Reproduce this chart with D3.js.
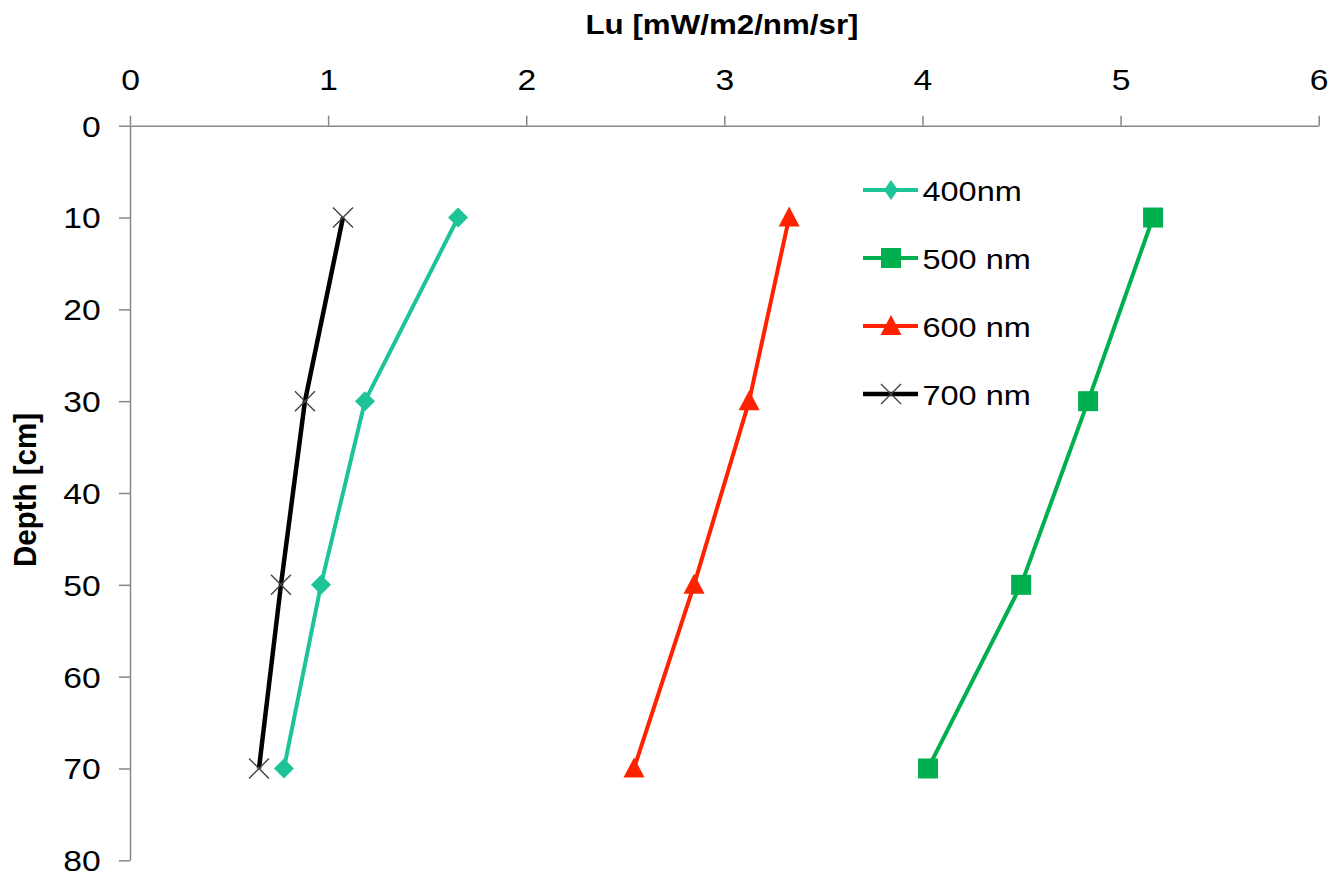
<!DOCTYPE html>
<html><head><meta charset="utf-8">
<script src="https://cdn.jsdelivr.net/npm/d3@7"></script>
<style>body{margin:0;background:#fff}svg{display:block}text{font-family:"Liberation Sans",Arial,sans-serif}</style>
</head><body><svg id="c" width="1330" height="873"></svg>
<script>
const depths = [10, 30, 50, 70];
const s400 = [1.656, 1.186, 0.964, 0.777];
const s500 = [5.164, 4.836, 4.498, 4.028];
const s600 = [3.327, 3.125, 2.847, 2.544];
const s700 = [1.075, 0.883, 0.762, 0.651];
const seriesNames = ["400nm", "500 nm", "600 nm", "700 nm"];
const xTicks = [0, 1, 2, 3, 4, 5, 6];
const yTicks = [0, 10, 20, 30, 40, 50, 60, 70, 80];

const series = [
  {name: seriesNames[0], vals: s400, color: "#1cc497", marker: "diamond"},
  {name: seriesNames[1], vals: s500, color: "#00b04f", marker: "square"},
  {name: seriesNames[2], vals: s600, color: "#ff2200", marker: "triangle"},
  {name: seriesNames[3], vals: s700, color: "#000000", marker: "cross"}
];

const SX = 1.16; // horizontal stretch of the reference's glyphs
const svg = d3.select("#c");
const x = d3.scaleLinear().domain([0, 6]).range([130, 1318.7]);
const y = d3.scaleLinear().domain([0, 80]).range([125.7, 860.3]);
const axisColor = "#888";

const xAxis = svg.append("g").attr("transform", `translate(0,${y(0)})`)
  .call(d3.axisTop(x).tickValues(xTicks).tickFormat(d3.format("d")).tickSize(10).tickSizeOuter(0).tickPadding(26));
const yAxis = svg.append("g").attr("transform", `translate(${x(0)},0)`)
  .call(d3.axisLeft(y).tickValues(yTicks).tickFormat(d3.format("d")).tickSize(11).tickSizeOuter(0).tickPadding(18));
[xAxis, yAxis].forEach(g => {
  g.selectAll("path,line").attr("stroke", axisColor).attr("stroke-width", 1.5);
  g.selectAll("text").attr("font-size", 29).attr("fill", "#000")
    .attr("font-family", '"Liberation Sans",Arial,sans-serif');
});
xAxis.selectAll("text").attr("dy", "0").attr("y", -(125.7 - 89.5))
  .attr("transform", `scale(${SX},1)`);
yAxis.selectAll("text").attr("dy", "0.36em").attr("x", -29.3 / SX)
  .attr("transform", `scale(${SX},1)`);

svg.append("text").attr("transform", `translate(722,34) scale(${SX},1)`).attr("text-anchor", "middle")
  .attr("font-size", 27).attr("font-weight", "bold").text("Lu [mW/m2/nm/sr]");
svg.append("text").attr("transform", `translate(36,490) rotate(-90) scale(1,1.05)`).attr("text-anchor", "middle")
  .attr("font-size", 29.5).attr("font-weight", "bold").text("Depth [cm]");

function drawMarker(g, type, color, cx, cy, legend) {
  if (type === "diamond") {
    const hw = legend ? 7 : 10, hh = 10;
    g.append("path").attr("d", `M${cx},${cy - hh}L${cx + hw},${cy}L${cx},${cy + hh}L${cx - hw},${cy}Z`).attr("fill", color);
  } else if (type === "square") {
    g.append("rect").attr("x", cx - 10).attr("y", cy - 10).attr("width", 20).attr("height", 20).attr("fill", color);
  } else if (type === "triangle") {
    g.append("path").attr("d", `M${cx},${cy - 11}L${cx + 10.5},${cy + 9}L${cx - 10.5},${cy + 9}Z`).attr("fill", color);
  } else {
    g.append("path").attr("d", `M${cx - 10},${cy - 10}L${cx + 10},${cy + 10}M${cx - 10},${cy + 10}L${cx + 10},${cy - 10}`)
      .attr("stroke", "#444").attr("stroke-width", 1.4).attr("fill", "none");
  }
}

const line = d3.line().x(d => x(d[0])).y(d => y(d[1]));
series.forEach(s => {
  const pts = s.vals.map((v, i) => [v, depths[i]]);
  const g = svg.append("g");
  g.append("path").attr("d", line(pts)).attr("fill", "none").attr("stroke", s.color)
    .attr("stroke-width", s.marker === "cross" ? 4.5 : 4);
  pts.forEach(p => drawMarker(g, s.marker, s.color, x(p[0]), y(p[1]), false));
});

const legY = [190, 258, 326, 394];
series.forEach((s, i) => {
  const g = svg.append("g");
  g.append("line").attr("x1", 863).attr("x2", 918).attr("y1", legY[i]).attr("y2", legY[i])
    .attr("stroke", s.color).attr("stroke-width", s.marker === "cross" ? 4.5 : 4);
  drawMarker(g, s.marker, s.color, 891, legY[i], true);
  g.append("text").attr("transform", `translate(922.5,${legY[i] + 1}) scale(${SX},1)`)
    .attr("dy", "0.36em").attr("font-size", 28).text(s.name);
});
</script></body></html>
